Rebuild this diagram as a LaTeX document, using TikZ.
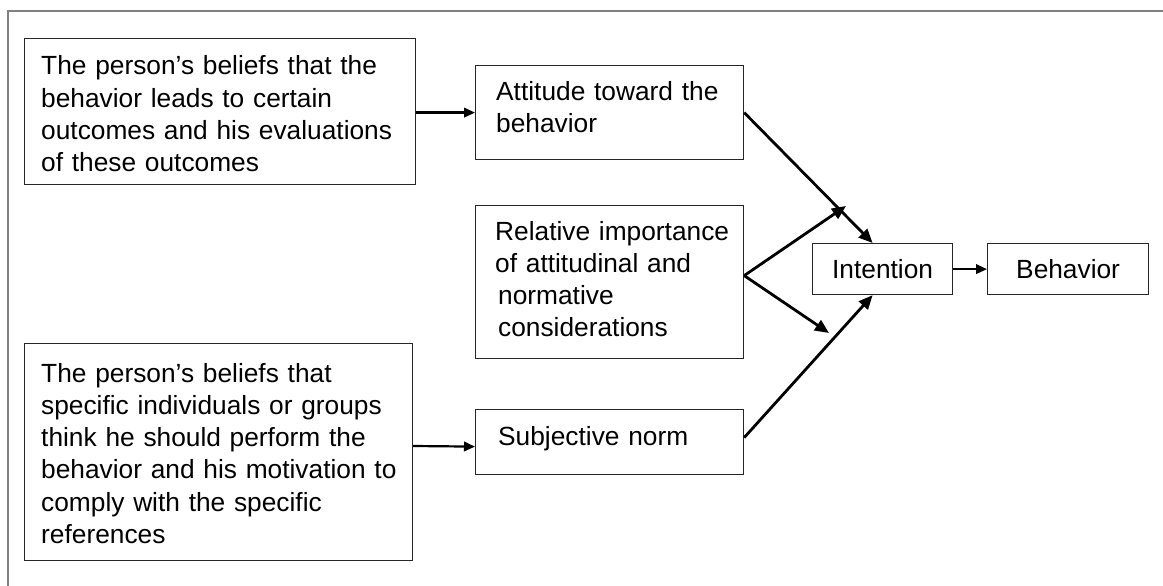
\documentclass[tikz,border=0pt]{standalone}
\usepackage{fontspec}
\setmainfont{Liberation Sans}
\usetikzlibrary{arrows.meta}

\begin{document}
\begin{tikzpicture}[x=1pt,y=-1pt,
  box/.style={draw=black!85,line width=1.2pt,anchor=north west,inner sep=0pt,
    minimum width=#1},
  label text/.style={anchor=base west,inner sep=0pt,text width=380pt,align=left,
    font=\fontsize{26.3}{32.3}\selectfont},
  center text/.style={font=\fontsize{26.3}{32.3}\selectfont},
  arr/.style={line width=2.2pt,-{Triangle[length=11pt,width=9.5pt]}},
  slant/.style={line width=2.8pt,-{Triangle[length=14pt,width=12pt]}},
  frame/.style={draw=black!50,line width=1.6pt}]
\useasboundingbox (0,0) rectangle (1163,586);

% partial outer frame
\draw[frame] (8,586) -- (8,11) -- (1163,11);

% boxes
\node[box=391pt,minimum height=146pt] (A) at (24,38) {};
\node[box=268pt,minimum height=94pt] (att) at (475,65) {};
\node[box=268pt,minimum height=153pt] (rel) at (475,205) {};
\node[box=388pt,minimum height=217pt] (B) at (24,343) {};
\node[box=268pt,minimum height=65pt] (sub) at (475,409) {};
\node[box=140pt,minimum height=51pt,center text] (int) at (812,243) {Intention};
\node[box=161pt,minimum height=51pt,center text] (beh) at (987,243) {Behavior};

% texts inside the boxes
\node[label text] (A-t) at (41,75) {The person’s beliefs that the\\behavior leads to certain\\outcomes and his evaluations\\of these outcomes};
\node[label text] (att-t) at (496,100) {Attitude toward the\\behavior};
\node[label text] (rel-t) at (495,240) {Relative importance\\of attitudinal and\\\hspace*{3pt}normative\\\hspace*{3pt}considerations};
\node[label text] (sub-t) at (498,445) {Subjective norm};
\node[label text] (B-t) at (41,382) {The person’s beliefs that\\specific individuals or groups\\think he should perform the\\behavior and his motivation to\\comply with the specific\\references};

% free ends of the weighting arrows
\coordinate (up) at (846,206);
\coordinate (dn) at (829,333);

% connectors
\draw[arr] (A.east |- att.west) -- (att.west);
\draw[arr] (B.east |- 0,446) -- ([yshift=-4.5pt]sub.west);
\draw[slant] (att.east) -- ([xshift=-10pt]int.north);
\draw[slant] ([yshift=6.5pt]rel.east) -- (up);
\draw[slant] ([yshift=6.5pt]rel.east) -- (dn);
\draw[slant] ([yshift=4.5pt]sub.east) -- ([xshift=-10pt]int.south);
\draw[arr] (int.east) -- (beh.west);
\end{tikzpicture}
\end{document}
